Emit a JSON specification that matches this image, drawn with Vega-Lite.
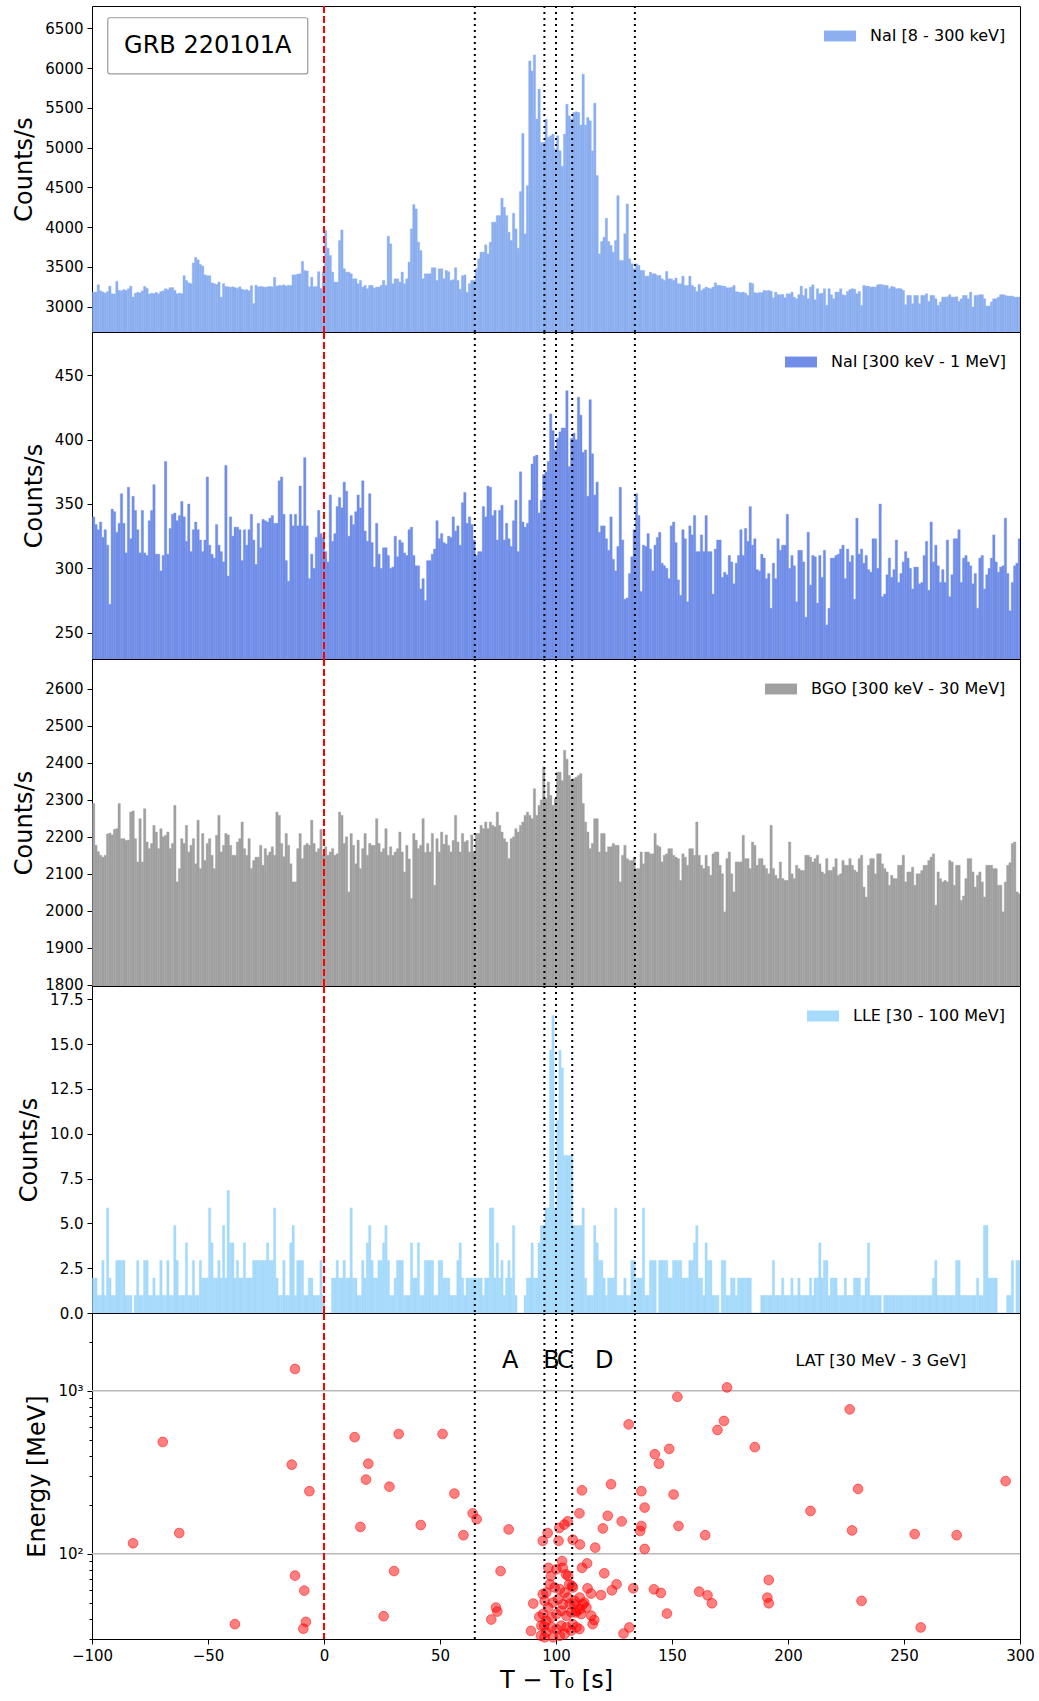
{
"$schema": "https://vega.github.io/schema/vega-lite/v6.json",
"background": "white",
"padding": {"left": 12, "top": 4, "right": 5, "bottom": 2},
"spacing": 0,
"bounds": "flush",
"resolve": {"scale": {"color": "independent"}, "legend": {"color": "independent"}},
"datasets": {
"marks": [{"t":65},{"t":95},{"t":100},{"t":107},{"t":134}],
"zero": [{"t":0}],
"hl": [{"e":100},{"e":1000}],
"abcd": [{"t":80.3,"e":1530,"s":"A"},{"t":98.0,"e":1530,"s":"B"},{"t":103.9,"e":1530,"s":"C"},{"t":120.8,"e":1530,"s":"D"}],
"latlabel": [{"t":240,"e":1524,"s":"LAT [30 MeV - 3 GeV]"}],
"grb": [{"t":-93.2,"t2":-7.0,"v":6635,"v2":5930,"tc":-50.1,"vc":6282,"s":"GRB 220101A"}],
"lat": [
{"t":-12.5,"e":1361},{"t":-69.5,"e":485},{"t":-13.9,"e":352},{"t":-6.3,"e":242},{"t":-82.3,"e":116},{"t":-62.4,"e":134},{"t":-12.5,"e":73.4},{"t":-8.5,"e":59.4},{"t":-38.4,"e":37},{"t":-7.8,"e":38.2},{"t":-8.9,"e":34.7},{"t":13.2,"e":519},{"t":32.2,"e":543},{"t":51.1,"e":543},{"t":19.1,"e":357},{"t":18.1,"e":285},{"t":28.2,"e":258},{"t":56.2,"e":234},{"t":64.1,"e":177},{"t":65.8,"e":163},{"t":15.7,"e":146},{"t":41.7,"e":150},{"t":60.1,"e":130},{"t":79.6,"e":141},{"t":30.2,"e":78.3},{"t":76.1,"e":78.3},{"t":25.7,"e":41.4},{"t":74.1,"e":46.8},{"t":74.7,"e":44.2},{"t":72.1,"e":39.5},
{"t":173.7,"e":1048},{"t":152.3,"e":918},{"t":226.6,"e":769},{"t":172.4,"e":653},{"t":169.6,"e":575},{"t":131.3,"e":622},{"t":148.8,"e":440},{"t":185.7,"e":451},{"t":142.6,"e":408},{"t":144.4,"e":357},{"t":293.8,"e":279},{"t":123.7,"e":267},{"t":111.2,"e":245},{"t":136.8,"e":242},{"t":150.7,"e":231},{"t":230.2,"e":250},{"t":138.2,"e":192},{"t":209.7,"e":183},{"t":110.1,"e":177},{"t":122.3,"e":171},{"t":128.3,"e":158},{"t":120.2,"e":143},{"t":136.8,"e":148},{"t":136.3,"e":138},{"t":152.8,"e":148},{"t":164.3,"e":130},{"t":227.6,"e":139},{"t":254.6,"e":132},{"t":272.7,"e":130},{"t":138.2,"e":107},{"t":116.9,"e":109},{"t":110.3,"e":114},{"t":107.2,"e":122},{"t":94.3,"e":120},{"t":96.4,"e":134},{"t":101.1,"e":120},{"t":101.4,"e":144},{"t":105,"e":158},{"t":103.6,"e":151},{"t":191.7,"e":69},{"t":191.1,"e":53.8},{"t":191.7,"e":49.7},{"t":231.7,"e":51.4},{"t":257.2,"e":35.3},{"t":147.8,"e":43},{"t":161.7,"e":58.6},{"t":165.3,"e":55.6},{"t":167.2,"e":49.7},{"t":142.2,"e":60.5},{"t":145.2,"e":57.5},{"t":133.3,"e":61.4},{"t":126.1,"e":65},{"t":124.1,"e":59.7},{"t":120.8,"e":75.9},{"t":119.4,"e":55.8},{"t":113.4,"e":87.3},{"t":111.2,"e":82},{"t":113.6,"e":61.4},{"t":115.1,"e":57},{"t":112.2,"e":50.2},{"t":116.5,"e":39.2},{"t":115.8,"e":37},{"t":110.1,"e":34.5},{"t":131.6,"e":35.3},{"t":129.1,"e":32.4},{"t":89.2,"e":33.6},{"t":90.2,"e":49.5},{"t":92.8,"e":41},{"t":94.3,"e":56.5},{"t":96.7,"e":82},{"t":97.8,"e":73},{"t":102.6,"e":90.2},{"t":102.9,"e":82},{"t":104.3,"e":74.8},{"t":105.7,"e":65},{"t":106.9,"e":63.4},{"t":107.9,"e":49},{"t":108.6,"e":43.6},{"t":110.3,"e":45.7},{"t":107.2,"e":37},{"t":94.9,"e":36.1},{"t":93.5,"e":31.4},
{"t":100.2,"e":80.3},{"t":105.2,"e":73.1},{"t":97.3,"e":65},{"t":95.8,"e":57.8},{"t":99.4,"e":62.1},{"t":101.6,"e":60.6},{"t":103.7,"e":57.8},{"t":105.2,"e":53.9},{"t":107.3,"e":62.1},{"t":95.1,"e":51.4},{"t":96.6,"e":46.8},{"t":98.7,"e":50.2},{"t":100.9,"e":52.6},{"t":103,"e":49},{"t":105.9,"e":49},{"t":108.1,"e":51.4},{"t":110.2,"e":53.9},{"t":94.4,"e":42.7},{"t":95.8,"e":38.8},{"t":98,"e":40.7},{"t":100.2,"e":42.7},{"t":102.3,"e":44.7},{"t":104.5,"e":41.7},{"t":106.6,"e":43.7},{"t":108.8,"e":44.7},{"t":110.9,"e":42.7},{"t":113.1,"e":46.8},{"t":111.7,"e":49},{"t":93.7,"e":36.2},{"t":95.8,"e":33},{"t":98,"e":35.4},{"t":100.2,"e":34.5},{"t":102.3,"e":36.2},{"t":104.5,"e":35.4},{"t":106.6,"e":33.8},{"t":108.8,"e":35.4},{"t":101.6,"e":31.4},{"t":103.7,"e":32.2},{"t":98.7,"e":30.7},{"t":95.1,"e":30.7},{"t":115.2,"e":41.7}
],
"lc": [
{"t":-100,"a":3184,"b":340,"c":2290,"d":1.95},{"t":-99,"a":3184,"b":334,"c":2177,"d":1.95},{"t":-98,"a":3276,"b":330,"c":2160,"d":0.98},{"t":-97,"a":3200,"b":336,"c":2150,"d":0.98},{"t":-96,"a":3184,"b":324,"c":2145,"d":2.93},{"t":-95,"a":3170,"b":330,"c":2150,"d":0.98},{"t":-94,"a":3190,"b":318,"c":2208,"d":5.86},{"t":-93,"a":3259,"b":272,"c":2210,"d":1.95},{"t":-92,"a":3163,"b":346,"c":2205,"d":0.98},{"t":-91,"a":3160,"b":344,"c":2220,"d":0.98},
{"t":-90,"a":3318,"b":328,"c":2222,"d":2.93},{"t":-89,"a":3205,"b":335,"c":2290,"d":2.93},{"t":-88,"a":3200,"b":358,"c":2195,"d":2.93},{"t":-87,"a":3215,"b":335,"c":2195,"d":2.93},{"t":-86,"a":3205,"b":312,"c":2190,"d":0.98},{"t":-85,"a":3226,"b":363,"c":2191,"d":0.98},{"t":-84,"a":3259,"b":323,"c":2267,"d":0.98},{"t":-83,"a":3121,"b":356,"c":2270,"d":0},{"t":-82,"a":3170,"b":345,"c":2195,"d":0.98},{"t":-81,"a":3180,"b":330,"c":2132,"d":2.93},
{"t":-80,"a":3175,"b":312,"c":2249,"d":0.98},{"t":-79,"a":3200,"b":345,"c":2132,"d":0.98},{"t":-78,"a":3255,"b":312,"c":2276,"d":2.93},{"t":-77,"a":3230,"b":310,"c":2186,"d":2.93},{"t":-76,"a":3160,"b":337,"c":2168,"d":0.98},{"t":-75,"a":3170,"b":345,"c":2182,"d":0.98},{"t":-74,"a":3165,"b":365,"c":2231,"d":1.95},{"t":-73,"a":3180,"b":311,"c":2213,"d":0.98},{"t":-72,"a":3163,"b":311,"c":2168,"d":0.98},{"t":-71,"a":3190,"b":298,"c":2222,"d":2.93},
{"t":-70,"a":3200,"b":310,"c":2200,"d":0.98},{"t":-69,"a":3226,"b":383,"c":2204,"d":0.98},{"t":-68,"a":3215,"b":311,"c":2213,"d":2.93},{"t":-67,"a":3240,"b":331,"c":2168,"d":0.98},{"t":-66,"a":3240,"b":342,"c":2182,"d":0.98},{"t":-65,"a":3205,"b":343,"c":2285,"d":4.88},{"t":-64,"a":3163,"b":337,"c":2078,"d":2.93},{"t":-63,"a":3170,"b":341,"c":2114,"d":0.98},{"t":-62,"a":3165,"b":352,"c":2195,"d":0.98},{"t":-61,"a":3390,"b":340,"c":2182,"d":0.98},
{"t":-60,"a":3330,"b":321,"c":2231,"d":3.91},{"t":-59,"a":3300,"b":350,"c":2159,"d":0.98},{"t":-58,"a":3290,"b":313,"c":2177,"d":0.98},{"t":-57,"a":3550,"b":330,"c":2195,"d":2.93},{"t":-56,"a":3620,"b":336,"c":2127,"d":0.98},{"t":-55,"a":3590,"b":330,"c":2245,"d":0.98},{"t":-54,"a":3530,"b":322,"c":2114,"d":2.93},{"t":-53,"a":3510,"b":313,"c":2209,"d":1.95},{"t":-52,"a":3400,"b":322,"c":2136,"d":1.95},{"t":-51,"a":3390,"b":371,"c":2182,"d":1.95},
{"t":-50,"a":3390,"b":318,"c":2195,"d":5.86},{"t":-49,"a":3300,"b":311,"c":2150,"d":3.91},{"t":-48,"a":3290,"b":308,"c":2114,"d":1.95},{"t":-47,"a":3280,"b":334,"c":2204,"d":1.95},{"t":-46,"a":3310,"b":318,"c":2258,"d":2.93},{"t":-45,"a":3120,"b":313,"c":2159,"d":1.95},{"t":-44,"a":3290,"b":305,"c":2177,"d":4.88},{"t":-43,"a":3255,"b":380,"c":2209,"d":1.95},{"t":-42,"a":3250,"b":294,"c":2205,"d":6.84},{"t":-41,"a":3245,"b":340,"c":2177,"d":3.91},
{"t":-40,"a":3250,"b":325,"c":2150,"d":3.91},{"t":-39,"a":3240,"b":332,"c":2150,"d":1.95},{"t":-38,"a":3230,"b":332,"c":2186,"d":2.93},{"t":-37,"a":3250,"b":330,"c":2195,"d":1.95},{"t":-36,"a":3220,"b":306,"c":2240,"d":1.95},{"t":-35,"a":3210,"b":330,"c":2168,"d":3.91},{"t":-34,"a":3215,"b":318,"c":2150,"d":1.95},{"t":-33,"a":3200,"b":330,"c":2195,"d":1.95},{"t":-32,"a":3265,"b":342,"c":2114,"d":1.95},{"t":-31,"a":3040,"b":322,"c":2136,"d":2.93},
{"t":-30,"a":3270,"b":303,"c":2145,"d":2.93},{"t":-29,"a":3250,"b":335,"c":2145,"d":2.93},{"t":-28,"a":3255,"b":316,"c":2177,"d":2.93},{"t":-27,"a":3250,"b":338,"c":2123,"d":2.93},{"t":-26,"a":3245,"b":337,"c":2168,"d":2.93},{"t":-25,"a":3250,"b":336,"c":2150,"d":3.91},{"t":-24,"a":3255,"b":339,"c":2159,"d":2.93},{"t":-23,"a":3250,"b":341,"c":2173,"d":2.93},{"t":-22,"a":3370,"b":335,"c":2150,"d":5.86},{"t":-21,"a":3260,"b":335,"c":2267,"d":1.95},
{"t":-20,"a":3270,"b":368,"c":2258,"d":0.98},{"t":-19,"a":3265,"b":371,"c":2182,"d":0.98},{"t":-18,"a":3275,"b":342,"c":2146,"d":2.93},{"t":-17,"a":3260,"b":306,"c":2209,"d":0.98},{"t":-16,"a":3270,"b":290,"c":2177,"d":0.98},{"t":-15,"a":3265,"b":342,"c":2127,"d":3.91},{"t":-14,"a":3400,"b":333,"c":2078,"d":4.88},{"t":-13,"a":3400,"b":342,"c":2078,"d":0.98},{"t":-12,"a":3410,"b":333,"c":2168,"d":2.93},{"t":-11,"a":3415,"b":364,"c":2209,"d":2.93},
{"t":-10,"a":3570,"b":333,"c":2141,"d":2.93},{"t":-9,"a":3455,"b":386,"c":2177,"d":0.98},{"t":-8,"a":3450,"b":333,"c":2182,"d":0.98},{"t":-7,"a":3250,"b":292,"c":2177,"d":1.95},{"t":-6,"a":3370,"b":311,"c":2245,"d":1.95},{"t":-5,"a":3250,"b":300,"c":2182,"d":0.98},{"t":-4,"a":3255,"b":324,"c":2159,"d":0.98},{"t":-3,"a":3440,"b":345,"c":2168,"d":0.98},{"t":-2,"a":3230,"b":327,"c":2220,"d":2.93},{"t":-1,"a":3440,"b":324,"c":2150,"d":0.98},
{"t":0,"a":3960,"b":313,"c":2173,"d":0},{"t":1,"a":3736,"b":305,"c":2150,"d":0},{"t":2,"a":3644,"b":357,"c":2159,"d":0},{"t":3,"a":3435,"b":321,"c":2168,"d":1.95},{"t":4,"a":3310,"b":327,"c":2150,"d":1.95},{"t":5,"a":3310,"b":348,"c":2154,"d":2.93},{"t":6,"a":3832,"b":355,"c":2267,"d":1.95},{"t":7,"a":3966,"b":347,"c":2258,"d":1.95},{"t":8,"a":3477,"b":367,"c":2182,"d":2.93},{"t":9,"a":3435,"b":360,"c":2200,"d":1.95},
{"t":10,"a":3435,"b":325,"c":2051,"d":1.95},{"t":11,"a":3414,"b":341,"c":2209,"d":5.86},{"t":12,"a":3351,"b":334,"c":2177,"d":1.95},{"t":13,"a":3351,"b":344,"c":2127,"d":1.95},{"t":14,"a":3289,"b":357,"c":2191,"d":0.98},{"t":15,"a":3331,"b":347,"c":2114,"d":0.98},{"t":16,"a":3247,"b":368,"c":2168,"d":2.93},{"t":17,"a":3268,"b":329,"c":2209,"d":1.95},{"t":18,"a":3226,"b":321,"c":2150,"d":3.91},{"t":19,"a":3268,"b":358,"c":2182,"d":4.88},
{"t":20,"a":3268,"b":320,"c":2177,"d":2.93},{"t":21,"a":3235,"b":301,"c":2177,"d":1.95},{"t":22,"a":3247,"b":335,"c":2249,"d":1.95},{"t":23,"a":3247,"b":311,"c":2182,"d":2.93},{"t":24,"a":3268,"b":300,"c":2159,"d":2.93},{"t":25,"a":3331,"b":316,"c":2168,"d":3.91},{"t":26,"a":3268,"b":316,"c":2222,"d":4.88},{"t":27,"a":3887,"b":310,"c":2150,"d":2.93},{"t":28,"a":3791,"b":300,"c":2173,"d":0.98},{"t":29,"a":3289,"b":301,"c":2150,"d":0.98},
{"t":30,"a":3351,"b":325,"c":2159,"d":1.95},{"t":31,"a":3351,"b":309,"c":2168,"d":2.93},{"t":32,"a":3310,"b":322,"c":2213,"d":2.93},{"t":33,"a":3435,"b":320,"c":2159,"d":2.93},{"t":34,"a":3289,"b":312,"c":2105,"d":0.98},{"t":35,"a":3351,"b":310,"c":2177,"d":0.98},{"t":36,"a":3561,"b":330,"c":2140,"d":0.98},{"t":37,"a":3979,"b":332,"c":2033,"d":3.91},{"t":38,"a":4284,"b":310,"c":2209,"d":1.95},{"t":39,"a":4230,"b":302,"c":2191,"d":1.95},
{"t":40,"a":3812,"b":302,"c":2168,"d":3.91},{"t":41,"a":3707,"b":284,"c":2177,"d":0.98},{"t":42,"a":3351,"b":292,"c":2249,"d":0.98},{"t":43,"a":3414,"b":275,"c":2158,"d":2.93},{"t":44,"a":3414,"b":306,"c":2182,"d":2.93},{"t":45,"a":3414,"b":306,"c":2159,"d":2.93},{"t":46,"a":3490,"b":311,"c":2209,"d":2.93},{"t":47,"a":3490,"b":315,"c":2069,"d":0.98},{"t":48,"a":3331,"b":337,"c":2195,"d":0.98},{"t":49,"a":3477,"b":323,"c":2159,"d":2.93},
{"t":50,"a":3477,"b":327,"c":2213,"d":2.93},{"t":51,"a":3351,"b":320,"c":2180,"d":1.95},{"t":52,"a":3456,"b":319,"c":2205,"d":1.95},{"t":53,"a":3440,"b":325,"c":2177,"d":1.95},{"t":54,"a":3330,"b":324,"c":2159,"d":0.98},{"t":55,"a":3340,"b":340,"c":2190,"d":0.98},{"t":56,"a":3490,"b":329,"c":2258,"d":0.98},{"t":57,"a":3330,"b":333,"c":2186,"d":2.93},{"t":58,"a":3220,"b":318,"c":2159,"d":3.91},{"t":59,"a":3390,"b":351,"c":2209,"d":1.95},
{"t":60,"a":3400,"b":359,"c":2186,"d":0.98},{"t":61,"a":3180,"b":335,"c":2190,"d":1.95},{"t":62,"a":3290,"b":340,"c":2159,"d":1.95},{"t":63,"a":3330,"b":334,"c":2205,"d":1.95},{"t":64,"a":3330,"b":322,"c":2159,"d":1.95},{"t":65,"a":3477,"b":310,"c":2209,"d":1.95},{"t":66,"a":3602,"b":313,"c":2209,"d":1.95},{"t":67,"a":3686,"b":313,"c":2231,"d":1.95},{"t":68,"a":3686,"b":348,"c":2222,"d":0.98},{"t":69,"a":3778,"b":340,"c":2240,"d":1.95},
{"t":70,"a":3665,"b":364,"c":2222,"d":1.95},{"t":71,"a":3812,"b":363,"c":2240,"d":5.86},{"t":72,"a":4063,"b":341,"c":2231,"d":5.86},{"t":73,"a":4063,"b":345,"c":2227,"d":1.95},{"t":74,"a":4146,"b":322,"c":2267,"d":3.91},{"t":75,"a":4146,"b":345,"c":2231,"d":1.95},{"t":76,"a":4364,"b":349,"c":2213,"d":2.93},{"t":77,"a":4251,"b":322,"c":2195,"d":0.98},{"t":78,"a":4146,"b":335,"c":2186,"d":1.95},{"t":79,"a":3937,"b":323,"c":2141,"d":2.93},
{"t":80,"a":3833,"b":317,"c":2195,"d":1.95},{"t":81,"a":4176,"b":337,"c":2200,"d":4.88},{"t":82,"a":3979,"b":353,"c":2222,"d":0.98},{"t":83,"a":3736,"b":313,"c":2213,"d":0},{"t":84,"a":4448,"b":375,"c":2231,"d":0},{"t":85,"a":5180,"b":336,"c":2240,"d":0},{"t":86,"a":3916,"b":332,"c":2258,"d":0.98},{"t":87,"a":4523,"b":335,"c":2267,"d":1.95},{"t":88,"a":6092,"b":353,"c":2258,"d":1.95},{"t":89,"a":5966,"b":381,"c":2249,"d":3.91},
{"t":90,"a":6167,"b":387,"c":2330,"d":1.95},{"t":91,"a":5360,"b":388,"c":2258,"d":1.95},{"t":92,"a":5736,"b":343,"c":2285,"d":3.91},{"t":93,"a":5067,"b":353,"c":2300,"d":4.88},{"t":94,"a":5067,"b":373,"c":2389,"d":4.88},{"t":95,"a":5360,"b":375,"c":2303,"d":5.86},{"t":96,"a":5130,"b":383,"c":2348,"d":5.86},{"t":97,"a":5150,"b":420,"c":2312,"d":14.65},{"t":98,"a":5171,"b":407,"c":2285,"d":16.6},{"t":99,"a":4983,"b":392,"c":2303,"d":5.86},
{"t":100,"a":5150,"b":401,"c":2375,"d":10.74},{"t":101,"a":4962,"b":406,"c":2375,"d":14.65},{"t":102,"a":4766,"b":409,"c":2352,"d":13.67},{"t":103,"a":5172,"b":409,"c":2434,"d":8.79},{"t":104,"a":5547,"b":438,"c":2410,"d":8.79},{"t":105,"a":5400,"b":379,"c":2366,"d":8.79},{"t":106,"a":5360,"b":401,"c":2352,"d":8.79},{"t":107,"a":5443,"b":405,"c":2357,"d":4.88},{"t":108,"a":5452,"b":400,"c":2361,"d":4.88},{"t":109,"a":5443,"b":433,"c":2366,"d":4.88},
{"t":110,"a":5285,"b":419,"c":2371,"d":4.88},{"t":111,"a":5925,"b":390,"c":2290,"d":5.86},{"t":112,"a":5285,"b":392,"c":2240,"d":1.95},{"t":113,"a":5381,"b":356,"c":2213,"d":0.98},{"t":114,"a":5339,"b":431,"c":2168,"d":0.98},{"t":115,"a":4962,"b":389,"c":2182,"d":0.98},{"t":116,"a":5560,"b":357,"c":2249,"d":4.88},{"t":117,"a":4650,"b":367,"c":2249,"d":3.91},{"t":118,"a":3665,"b":328,"c":2159,"d":2.93},{"t":119,"a":3820,"b":333,"c":2209,"d":2.93},
{"t":120,"a":3874,"b":333,"c":2209,"d":1.95},{"t":121,"a":4113,"b":323,"c":2159,"d":0.98},{"t":122,"a":3820,"b":314,"c":2173,"d":1.95},{"t":123,"a":3770,"b":340,"c":2173,"d":1.95},{"t":124,"a":3686,"b":307,"c":2182,"d":1.95},{"t":125,"a":3833,"b":298,"c":2177,"d":5.86},{"t":126,"a":4397,"b":317,"c":2177,"d":0.98},{"t":127,"a":3582,"b":363,"c":2078,"d":0.98},{"t":128,"a":3582,"b":322,"c":2150,"d":0.98},{"t":129,"a":3916,"b":276,"c":2177,"d":1.95},
{"t":130,"a":4293,"b":277,"c":2141,"d":0.98},{"t":131,"a":3603,"b":296,"c":2136,"d":0.98},{"t":132,"a":3540,"b":309,"c":2136,"d":2.93},{"t":133,"a":3477,"b":330,"c":2145,"d":2.93},{"t":134,"a":3540,"b":358,"c":2114,"d":1.95},{"t":135,"a":3519,"b":341,"c":2114,"d":1.95},{"t":136,"a":3456,"b":282,"c":2159,"d":1.95},{"t":137,"a":3456,"b":318,"c":2127,"d":5.86},{"t":138,"a":3385,"b":317,"c":2159,"d":0.98},{"t":139,"a":3385,"b":327,"c":2159,"d":0.98},
{"t":140,"a":3435,"b":315,"c":2154,"d":2.93},{"t":141,"a":3414,"b":298,"c":2154,"d":2.93},{"t":142,"a":3414,"b":318,"c":2209,"d":2.93},{"t":143,"a":3393,"b":324,"c":2177,"d":0},{"t":144,"a":3393,"b":328,"c":2173,"d":2.93},{"t":145,"a":3351,"b":304,"c":2132,"d":2.93},{"t":146,"a":3331,"b":302,"c":2150,"d":2.93},{"t":147,"a":3444,"b":300,"c":2154,"d":2.93},{"t":148,"a":3351,"b":292,"c":2168,"d":1.95},{"t":149,"a":3351,"b":333,"c":2168,"d":1.95},
{"t":150,"a":3331,"b":336,"c":2150,"d":2.93},{"t":151,"a":3360,"b":320,"c":2145,"d":2.93},{"t":152,"a":3289,"b":291,"c":2141,"d":2.93},{"t":153,"a":3289,"b":279,"c":2082,"d":2.93},{"t":154,"a":3385,"b":330,"c":2154,"d":1.95},{"t":155,"a":3268,"b":323,"c":2145,"d":1.95},{"t":156,"a":3268,"b":274,"c":2123,"d":1.95},{"t":157,"a":3385,"b":333,"c":2168,"d":2.93},{"t":158,"a":3268,"b":326,"c":2168,"d":2.93},{"t":159,"a":3247,"b":341,"c":2150,"d":3.91},
{"t":160,"a":3192,"b":313,"c":2240,"d":4.88},{"t":161,"a":3280,"b":313,"c":2150,"d":1.95},{"t":162,"a":3205,"b":326,"c":2123,"d":1.95},{"t":163,"a":3226,"b":313,"c":2114,"d":0.98},{"t":164,"a":3247,"b":341,"c":2150,"d":3.91},{"t":165,"a":3235,"b":313,"c":2120,"d":2.93},{"t":166,"a":3226,"b":313,"c":2096,"d":2.93},{"t":167,"a":3247,"b":280,"c":2154,"d":0.98},{"t":168,"a":3301,"b":315,"c":2159,"d":0.98},{"t":169,"a":3268,"b":322,"c":2159,"d":0.98},
{"t":170,"a":3268,"b":322,"c":2123,"d":0},{"t":171,"a":3259,"b":293,"c":2100,"d":2.93},{"t":172,"a":3259,"b":297,"c":1997,"d":2.93},{"t":173,"a":3238,"b":295,"c":2141,"d":0.98},{"t":174,"a":3238,"b":310,"c":2159,"d":0.98},{"t":175,"a":3245,"b":305,"c":2100,"d":1.95},{"t":176,"a":3268,"b":288,"c":2051,"d":1.95},{"t":177,"a":3190,"b":304,"c":2132,"d":0.98},{"t":178,"a":3184,"b":310,"c":2132,"d":1.95},{"t":179,"a":3176,"b":330,"c":2132,"d":1.95},
{"t":180,"a":3184,"b":310,"c":2204,"d":1.95},{"t":181,"a":3170,"b":331,"c":2141,"d":1.95},{"t":182,"a":3142,"b":321,"c":2141,"d":1.95},{"t":183,"a":3301,"b":348,"c":2114,"d":1.95},{"t":184,"a":3290,"b":318,"c":2186,"d":0},{"t":185,"a":3176,"b":323,"c":2177,"d":0},{"t":186,"a":3170,"b":299,"c":2123,"d":0},{"t":187,"a":3180,"b":298,"c":2141,"d":0},{"t":188,"a":3176,"b":311,"c":2141,"d":0.98},{"t":189,"a":3205,"b":308,"c":2123,"d":0.98},
{"t":190,"a":3200,"b":292,"c":2114,"d":0.98},{"t":191,"a":3205,"b":296,"c":2100,"d":0.98},{"t":192,"a":3195,"b":269,"c":2231,"d":0.98},{"t":193,"a":3113,"b":304,"c":2114,"d":2.93},{"t":194,"a":3184,"b":292,"c":2096,"d":0.98},{"t":195,"a":3151,"b":323,"c":2087,"d":0.98},{"t":196,"a":3150,"b":314,"c":2132,"d":0.98},{"t":197,"a":3155,"b":318,"c":2087,"d":1.95},{"t":198,"a":3113,"b":318,"c":2082,"d":0.98},{"t":199,"a":3163,"b":342,"c":2082,"d":0.98},
{"t":200,"a":3160,"b":300,"c":2186,"d":0.98},{"t":201,"a":3184,"b":310,"c":2100,"d":1.95},{"t":202,"a":3120,"b":302,"c":2087,"d":0.98},{"t":203,"a":3100,"b":274,"c":2123,"d":0.98},{"t":204,"a":3151,"b":314,"c":2114,"d":1.95},{"t":205,"a":3259,"b":314,"c":2109,"d":0.98},{"t":206,"a":3142,"b":305,"c":2109,"d":0.98},{"t":207,"a":3226,"b":262,"c":2150,"d":0.98},{"t":208,"a":3100,"b":328,"c":2150,"d":0.98},{"t":209,"a":3247,"b":287,"c":2145,"d":1.95},
{"t":210,"a":3276,"b":310,"c":2132,"d":0.98},{"t":211,"a":3088,"b":309,"c":2141,"d":1.95},{"t":212,"a":3226,"b":273,"c":2150,"d":1.95},{"t":213,"a":3163,"b":310,"c":2127,"d":3.91},{"t":214,"a":3170,"b":293,"c":2105,"d":1.95},{"t":215,"a":3226,"b":314,"c":2100,"d":2.93},{"t":216,"a":3017,"b":256,"c":2141,"d":2.93},{"t":217,"a":3226,"b":269,"c":2109,"d":0.98},{"t":218,"a":3150,"b":308,"c":2109,"d":1.95},{"t":219,"a":3100,"b":308,"c":2118,"d":1.95},
{"t":220,"a":3184,"b":310,"c":2141,"d":1.95},{"t":221,"a":3184,"b":311,"c":2096,"d":0.98},{"t":222,"a":3226,"b":315,"c":2100,"d":0.98},{"t":223,"a":3150,"b":318,"c":2136,"d":0.98},{"t":224,"a":3142,"b":292,"c":2123,"d":1.95},{"t":225,"a":3192,"b":315,"c":2123,"d":0.98},{"t":226,"a":3215,"b":305,"c":2141,"d":0.98},{"t":227,"a":3226,"b":310,"c":2123,"d":0.98},{"t":228,"a":3220,"b":276,"c":2110,"d":1.95},{"t":229,"a":3163,"b":339,"c":2105,"d":1.95},
{"t":230,"a":3192,"b":311,"c":2141,"d":1.95},{"t":231,"a":3017,"b":315,"c":2150,"d":0.98},{"t":232,"a":3268,"b":304,"c":2064,"d":0.98},{"t":233,"a":3259,"b":310,"c":2037,"d":1.95},{"t":234,"a":3259,"b":299,"c":2123,"d":3.91},{"t":235,"a":3247,"b":297,"c":2141,"d":0.98},{"t":236,"a":3250,"b":323,"c":2141,"d":0.98},{"t":237,"a":3247,"b":323,"c":2100,"d":0.98},{"t":238,"a":3276,"b":300,"c":2154,"d":0.98},{"t":239,"a":3280,"b":350,"c":2154,"d":0.98},
{"t":240,"a":3276,"b":278,"c":2127,"d":0},{"t":241,"a":3268,"b":280,"c":2114,"d":0.98},{"t":242,"a":3268,"b":295,"c":2105,"d":0.98},{"t":243,"a":3226,"b":308,"c":2069,"d":0.98},{"t":244,"a":3255,"b":293,"c":2096,"d":0.98},{"t":245,"a":3247,"b":299,"c":2087,"d":0.98},{"t":246,"a":3226,"b":322,"c":2087,"d":0.98},{"t":247,"a":3230,"b":289,"c":2123,"d":0.98},{"t":248,"a":3226,"b":296,"c":2123,"d":0.98},{"t":249,"a":3205,"b":305,"c":2150,"d":0.98},
{"t":250,"a":3025,"b":313,"c":2078,"d":0.98},{"t":251,"a":3142,"b":308,"c":2105,"d":0.98},{"t":252,"a":3142,"b":300,"c":2105,"d":0.98},{"t":253,"a":3038,"b":284,"c":2118,"d":0.98},{"t":254,"a":3142,"b":301,"c":2069,"d":0.98},{"t":255,"a":3142,"b":301,"c":2100,"d":0.98},{"t":256,"a":3038,"b":288,"c":2100,"d":0.98},{"t":257,"a":3142,"b":289,"c":2109,"d":0.98},{"t":258,"a":3142,"b":310,"c":2123,"d":0.98},{"t":259,"a":3163,"b":321,"c":2123,"d":0.98},
{"t":260,"a":3067,"b":283,"c":2136,"d":0.98},{"t":261,"a":3142,"b":336,"c":2145,"d":0.98},{"t":262,"a":3142,"b":305,"c":2154,"d":1.95},{"t":263,"a":3100,"b":318,"c":2015,"d":2.93},{"t":264,"a":3017,"b":302,"c":2105,"d":0.98},{"t":265,"a":3059,"b":289,"c":2087,"d":0.98},{"t":266,"a":3121,"b":299,"c":2078,"d":0.98},{"t":267,"a":3121,"b":289,"c":2082,"d":0.98},{"t":268,"a":3125,"b":322,"c":2078,"d":0.98},{"t":269,"a":3151,"b":278,"c":2136,"d":0.98},
{"t":270,"a":3121,"b":295,"c":2132,"d":0.98},{"t":271,"a":3121,"b":323,"c":2069,"d":0.98},{"t":272,"a":3125,"b":323,"c":2123,"d":2.93},{"t":273,"a":3067,"b":330,"c":2123,"d":2.93},{"t":274,"a":3100,"b":289,"c":2028,"d":0.98},{"t":275,"a":3142,"b":308,"c":2040,"d":0.98},{"t":276,"a":3142,"b":310,"c":2087,"d":0.98},{"t":277,"a":3100,"b":305,"c":2141,"d":0.98},{"t":278,"a":3184,"b":302,"c":2141,"d":0.98},{"t":279,"a":2996,"b":288,"c":2105,"d":0.98},
{"t":280,"a":3142,"b":296,"c":2064,"d":0.98},{"t":281,"a":3142,"b":269,"c":2096,"d":1.95},{"t":282,"a":3151,"b":308,"c":2105,"d":0.98},{"t":283,"a":3151,"b":310,"c":2078,"d":0.98},{"t":284,"a":3100,"b":284,"c":2037,"d":4.88},{"t":285,"a":3008,"b":295,"c":2123,"d":4.88},{"t":286,"a":3010,"b":300,"c":2123,"d":1.95},{"t":287,"a":3059,"b":308,"c":2123,"d":1.95},{"t":288,"a":3100,"b":326,"c":2114,"d":1.95},{"t":289,"a":3100,"b":305,"c":2114,"d":1.95},
{"t":290,"a":3121,"b":297,"c":2069,"d":0},{"t":291,"a":3151,"b":301,"c":2069,"d":0},{"t":292,"a":3151,"b":302,"c":1997,"d":0},{"t":293,"a":3142,"b":339,"c":2078,"d":0},{"t":294,"a":3134,"b":296,"c":2123,"d":0.98},{"t":295,"a":3134,"b":267,"c":2130,"d":0.98},{"t":296,"a":3134,"b":289,"c":2182,"d":2.93},{"t":297,"a":3121,"b":302,"c":2186,"d":0},{"t":298,"a":3121,"b":304,"c":2051,"d":2.93},{"t":299,"a":3121,"b":323,"c":2046,"d":2.93}
]
},
"vconcat": [
{
"width": 928, "height": 326,
"layer": [
{"data": {"name": "lc"}, "mark": {"type": "bar", "binSpacing": 0, "clip": true, "stroke": "#8bafef", "strokeWidth": 0.4},
 "encoding": {
  "x": {"field": "t", "type": "quantitative", "bin": {"step": 1, "extent": [-100, 300]}, "scale": {"domain": [-100, 300], "nice": false}, "axis": null},
  "y": {"aggregate": "sum", "field": "a", "type": "quantitative", "title": "Counts/s", "scale": {"domain": [2682, 6783], "nice": false, "zero": false}, "axis": {"values": [3000,3500,4000,4500,5000,5500,6000,6500], "format": "d", "title": "Counts/s"}},
  "color": {"datum": "NaI [8 - 300 keV]", "type": "nominal", "scale": {"range": ["#8bafef"]}, "legend": {"title": null, "symbolType": "M-1,-0.34H1V0.34H-1Z", "symbolSize": 1024, "symbolStrokeWidth": 0}}
 }},
{"data": {"name": "marks"}, "mark": {"type": "rule", "color": "black", "strokeDash": [2, 4], "strokeWidth": 2},
 "encoding": {"x": {"field": "t", "type": "quantitative", "scale": {"domain": [-100, 300], "nice": false}, "axis": null}}},
{"data": {"name": "zero"}, "mark": {"type": "rule", "color": "#ff0000", "strokeDash": [7, 3], "strokeWidth": 2},
 "encoding": {"x": {"field": "t", "type": "quantitative", "scale": {"domain": [-100, 300], "nice": false}, "axis": null}}},
{"data": {"name": "grb"}, "mark": {"type": "rect", "fill": "white", "stroke": "#9a9a9a", "strokeWidth": 1.2, "cornerRadius": 2},
 "encoding": {
  "x": {"field": "t", "type": "quantitative", "scale": {"domain": [-100, 300], "nice": false}, "axis": null},
  "x2": {"field": "t2"},
  "y": {"field": "v", "type": "quantitative", "title": "Counts/s", "scale": {"domain": [2682, 6783], "nice": false, "zero": false}},
  "y2": {"field": "v2"}
 }},
{"data": {"name": "grb"}, "mark": {"type": "text", "fontSize": 24, "align": "center", "baseline": "middle", "color": "black"},
 "encoding": {
  "x": {"field": "tc", "type": "quantitative", "scale": {"domain": [-100, 300], "nice": false}, "axis": null},
  "y": {"field": "vc", "type": "quantitative", "title": "Counts/s", "scale": {"domain": [2682, 6783], "nice": false, "zero": false}},
  "text": {"field": "s"}
 }}
]
},
{
"width": 928, "height": 327,
"layer": [
{"data": {"name": "lc"}, "mark": {"type": "bar", "binSpacing": 0, "clip": true, "stroke": "#708ee8", "strokeWidth": 0.4},
 "encoding": {
  "x": {"field": "t", "type": "quantitative", "bin": {"step": 1, "extent": [-100, 300]}, "scale": {"domain": [-100, 300], "nice": false}, "axis": null},
  "y": {"aggregate": "sum", "field": "b", "type": "quantitative", "scale": {"domain": [229.6, 483.6], "nice": false, "zero": false}, "axis": {"values": [250,300,350,400,450], "format": "d", "title": "Counts/s"}},
  "color": {"datum": "NaI [300 keV - 1 MeV]", "type": "nominal", "scale": {"range": ["#708ee8"]}, "legend": {"title": null, "symbolType": "M-1,-0.34H1V0.34H-1Z", "symbolSize": 1024, "symbolStrokeWidth": 0}}
 }},
{"data": {"name": "marks"}, "mark": {"type": "rule", "color": "black", "strokeDash": [2, 4], "strokeWidth": 2},
 "encoding": {"x": {"field": "t", "type": "quantitative", "scale": {"domain": [-100, 300], "nice": false}, "axis": null}}},
{"data": {"name": "zero"}, "mark": {"type": "rule", "color": "#ff0000", "strokeDash": [7, 3], "strokeWidth": 2},
 "encoding": {"x": {"field": "t", "type": "quantitative", "scale": {"domain": [-100, 300], "nice": false}, "axis": null}}}
]
},
{
"width": 928, "height": 327,
"layer": [
{"data": {"name": "lc"}, "mark": {"type": "bar", "binSpacing": 0, "clip": true, "stroke": "#a0a0a0", "strokeWidth": 0.4},
 "encoding": {
  "x": {"field": "t", "type": "quantitative", "bin": {"step": 1, "extent": [-100, 300]}, "scale": {"domain": [-100, 300], "nice": false}, "axis": null},
  "y": {"aggregate": "sum", "field": "c", "type": "quantitative", "scale": {"domain": [1796.5, 2681], "nice": false, "zero": false}, "axis": {"values": [1800,1900,2000,2100,2200,2300,2400,2500,2600], "format": "d", "title": "Counts/s"}},
  "color": {"datum": "BGO [300 keV - 30 MeV]", "type": "nominal", "scale": {"range": ["#a0a0a0"]}, "legend": {"title": null, "symbolType": "M-1,-0.34H1V0.34H-1Z", "symbolSize": 1024, "symbolStrokeWidth": 0}}
 }},
{"data": {"name": "marks"}, "mark": {"type": "rule", "color": "black", "strokeDash": [2, 4], "strokeWidth": 2},
 "encoding": {"x": {"field": "t", "type": "quantitative", "scale": {"domain": [-100, 300], "nice": false}, "axis": null}}},
{"data": {"name": "zero"}, "mark": {"type": "rule", "color": "#ff0000", "strokeDash": [7, 3], "strokeWidth": 2},
 "encoding": {"x": {"field": "t", "type": "quantitative", "scale": {"domain": [-100, 300], "nice": false}, "axis": null}}}
]
},
{
"width": 928, "height": 327,
"layer": [
{"data": {"name": "lc"}, "mark": {"type": "bar", "binSpacing": 0, "clip": true, "stroke": "#a5dafb", "strokeWidth": 0.4},
 "encoding": {
  "x": {"field": "t", "type": "quantitative", "bin": {"step": 1, "extent": [-100, 300]}, "scale": {"domain": [-100, 300], "nice": false}, "axis": null},
  "y": {"aggregate": "sum", "field": "d", "type": "quantitative", "scale": {"domain": [0, 18.24], "nice": false, "zero": false}, "axis": {"values": [0,2.5,5,7.5,10,12.5,15,17.5], "format": ".1f", "title": "Counts/s"}},
  "color": {"datum": "LLE [30 - 100 MeV]", "type": "nominal", "scale": {"range": ["#a5dafb"]}, "legend": {"title": null, "symbolType": "M-1,-0.34H1V0.34H-1Z", "symbolSize": 1024, "symbolStrokeWidth": 0}}
 }},
{"data": {"name": "marks"}, "mark": {"type": "rule", "color": "black", "strokeDash": [2, 4], "strokeWidth": 2},
 "encoding": {"x": {"field": "t", "type": "quantitative", "scale": {"domain": [-100, 300], "nice": false}, "axis": null}}},
{"data": {"name": "zero"}, "mark": {"type": "rule", "color": "#ff0000", "strokeDash": [7, 3], "strokeWidth": 2},
 "encoding": {"x": {"field": "t", "type": "quantitative", "scale": {"domain": [-100, 300], "nice": false}, "axis": null}}}
]
},
{
"width": 928, "height": 326,
"layer": [
{"data": {"name": "hl"}, "mark": {"type": "rule", "color": "#b8b8b8", "strokeWidth": 1.5},
 "encoding": {"y": {"field": "e", "type": "quantitative", "title": "Energy [MeV]", "scale": {"type": "log", "domain": [30, 3000], "nice": false}}}},
{"data": {"name": "lat"}, "mark": {"type": "point", "filled": true, "fill": "#ff0000", "fillOpacity": 0.5, "stroke": "#ff0000", "strokeOpacity": 0.5, "strokeWidth": 1, "size": 95},
 "encoding": {
  "x": {"field": "t", "type": "quantitative", "title": "T − T₀ [s]", "scale": {"domain": [-100, 300], "nice": false}, "axis": {"values": [-100,-50,0,50,100,150,200,250,300], "format": "d", "title": "T − T₀ [s]", "titlePadding": 5}},
  "y": {"field": "e", "type": "quantitative", "title": "Energy [MeV]", "scale": {"type": "log", "domain": [30, 3000], "nice": false}, "axis": {"values": [30,40,50,60,70,80,90,100,200,300,400,500,600,700,800,900,1000,2000], "labelExpr": "datum.value == 100 ? '10²' : datum.value == 1000 ? '10³' : ''", "tickSize": {"condition": {"test": "datum.value == 100 || datum.value == 1000", "value": 5}, "value": 3}, "title": "Energy [MeV]"}}
 }},
{"data": {"name": "marks"}, "mark": {"type": "rule", "color": "black", "strokeDash": [2, 4], "strokeWidth": 2},
 "encoding": {"x": {"field": "t", "type": "quantitative", "title": "T − T₀ [s]", "scale": {"domain": [-100, 300], "nice": false}}}},
{"data": {"name": "zero"}, "mark": {"type": "rule", "color": "#ff0000", "strokeDash": [7, 3], "strokeWidth": 2},
 "encoding": {"x": {"field": "t", "type": "quantitative", "title": "T − T₀ [s]", "scale": {"domain": [-100, 300], "nice": false}}}},
{"data": {"name": "abcd"}, "mark": {"type": "text", "fontSize": 24, "align": "center", "baseline": "middle", "color": "black"},
 "encoding": {
  "x": {"field": "t", "type": "quantitative", "title": "T − T₀ [s]", "scale": {"domain": [-100, 300], "nice": false}},
  "y": {"field": "e", "type": "quantitative", "title": "Energy [MeV]", "scale": {"type": "log", "domain": [30, 3000], "nice": false}},
  "text": {"field": "s"}
 }},
{"data": {"name": "latlabel"}, "mark": {"type": "text", "fontSize": 16, "align": "center", "baseline": "middle", "color": "black"},
 "encoding": {
  "x": {"field": "t", "type": "quantitative", "title": "T − T₀ [s]", "scale": {"domain": [-100, 300], "nice": false}},
  "y": {"field": "e", "type": "quantitative", "title": "Energy [MeV]", "scale": {"type": "log", "domain": [30, 3000], "nice": false}},
  "text": {"field": "s"}
 }}
]
}
],
"config": {
 "font": "DejaVu Sans",
 "view": {"stroke": "black", "strokeWidth": 1},
 "axis": {"domain": false, "grid": false, "ticks": true, "tickSize": 5, "tickColor": "black", "tickWidth": 1, "labelFontSize": 15, "labelColor": "black", "labelFont": "DejaVu Sans", "labelPadding": 4, "labelFlush": false, "labelOverlap": false, "labelBound": false, "titleFontSize": 24, "titleFontWeight": "normal", "titleColor": "black", "titleFont": "DejaVu Sans", "titlePadding": 8},
 "legend": {"orient": "top-right", "offset": 14, "padding": 0, "labelFontSize": 16, "labelFont": "DejaVu Sans", "labelColor": "black", "labelOffset": 14, "labelLimit": 400}
}
}
